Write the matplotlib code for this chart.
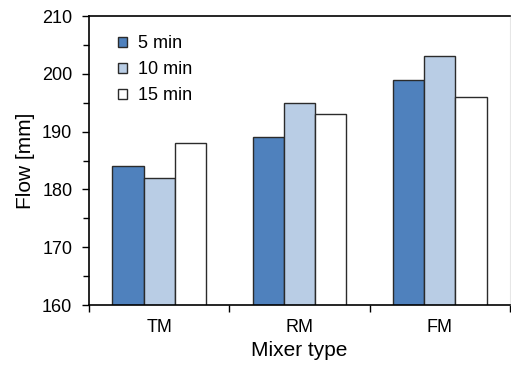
import matplotlib.pyplot as plt
import numpy as np
from matplotlib.ticker import MultipleLocator

plt.rcParams["font.family"] = ["Liberation Sans", "DejaVu Sans"]

mixers = ["TM", "RM", "FM"]
series = ["5 min", "10 min", "15 min"]
flow_5 = [184, 189, 199]
flow_10 = [182, 195, 203]
flow_15 = [188, 193, 196]
colors = ["#4F81BD", "#B9CDE5", "#FFFFFF"]

fig = plt.figure(figsize=(5.11, 3.67), dpi=100)
ax = fig.add_axes([89 / 511, 1 - 305 / 367, 421 / 511, 289 / 367])

x = np.arange(len(mixers))
width = 0.222
for i, (vals, name, c) in enumerate(zip([flow_5, flow_10, flow_15], series, colors)):
    ax.bar(x + (i - 1) * width, vals, width, color=c, edgecolor="#2b2b2b",
           linewidth=1.0, label=name, zorder=2)

ax.set_ylim(160, 210)
ax.set_xlim(-0.5, 2.5)
ax.yaxis.set_major_locator(MultipleLocator(10))
ax.yaxis.set_minor_locator(MultipleLocator(5))
ax.tick_params(axis="y", which="major", direction="out", length=5, width=1,
               labelsize=13, pad=7)
ax.tick_params(axis="y", which="minor", direction="out", length=4, width=1)

# category boundaries get the tick marks, names sit between them
ax.set_xticks([-0.5, 0.5, 1.5, 2.5])
ax.set_xticklabels([])
ax.set_xticks(x, minor=True)
ax.set_xticklabels(mixers, minor=True, fontsize=13)
ax.tick_params(axis="x", which="major", direction="out", length=5, width=1)
ax.tick_params(axis="x", which="minor", length=0, pad=10)

for side in ["left", "bottom", "top"]:
    ax.spines[side].set_linewidth(1.2)
    ax.spines[side].set_color("black")
ax.spines["right"].set_color("#e6e6e6")

ax.set_ylabel("Flow [mm]", fontsize=15, labelpad=5)
ax.set_xlabel("Mixer type", fontsize=15, labelpad=4)

leg = ax.legend(loc="upper left", bbox_to_anchor=(0.03, 0.99), frameon=False,
                fontsize=13, handlelength=0.5, handleheight=0.5,
                handletextpad=0.6, labelspacing=0.5)

fig.savefig("out.png", dpi=100)
